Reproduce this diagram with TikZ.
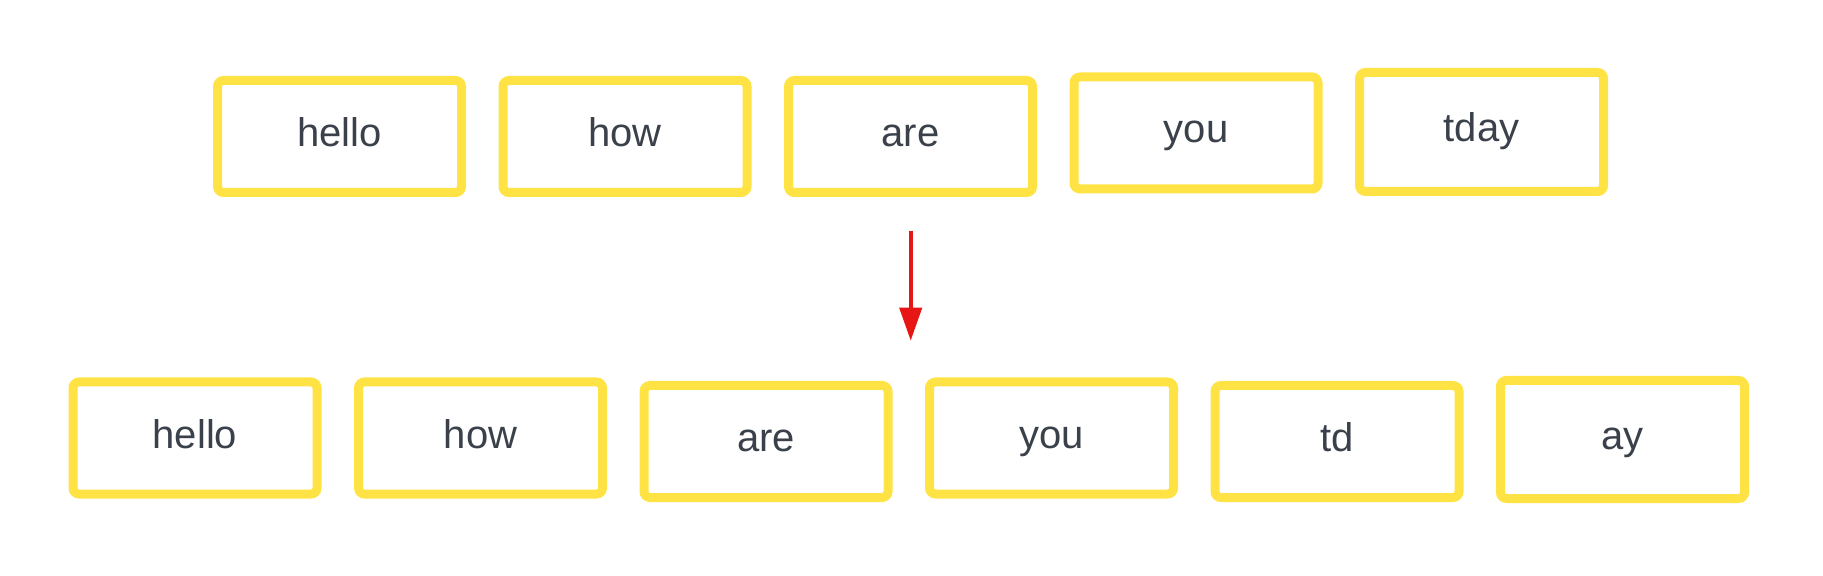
\documentclass[tikz,border=0pt]{standalone}
\usepackage{fontspec}
\setmainfont{Liberation Sans}
\usetikzlibrary{positioning, arrows.meta}

\definecolor{tokyellow}{HTML}{FFE244}
\definecolor{tokgray}{HTML}{3A414A}
\definecolor{arrred}{HTML}{E81515}

\begin{document}
\begin{tikzpicture}[x=0.5pt, y=-0.5pt, node distance=16.25pt,
	token/.style={draw=tokyellow, line width=4.5pt, rounded corners=3pt,
		minimum width=122pt, minimum height=56pt, text=tokgray,
		font=\fontsize{20}{24}\selectfont, text height=15pt, text depth=5pt},
	flow/.style={draw=arrred, line width=2pt, -{Triangle[width=11pt, length=16.5pt]}}]

	\useasboundingbox (0,0) rectangle (1823,576);

	\node[token] (h1) at (339.5,136.5) {hello};
	\node[token, right=of h1] (w1) {how};
	\node[token, right=of w1] (a1) {are};
	\node[token, right=of a1, yshift=1.75pt] (y1) {you};
	\node[token, right=of y1, yshift=0.5pt, minimum height=59.5pt] (t1) {tday};

	\node[token] (h2) at (195,438) {hello};
	\node[token, right=of h2] (w2) {how};
	\node[token, right=of w2, yshift=-1.75pt] (a2) {are};
	\node[token, right=of a2, yshift=1.75pt] (y2) {you};
	\node[token, right=of y2, yshift=-1.75pt] (d2) {td};
	\node[token, right=of d2, yshift=1pt, minimum height=59pt] (ay2) {ay};

	\coordinate (split) at (910.7,230.7);
	\coordinate (splitend) at (910.7,340.7);
	\draw[flow] (split) -- (splitend);

\end{tikzpicture}
\end{document}
